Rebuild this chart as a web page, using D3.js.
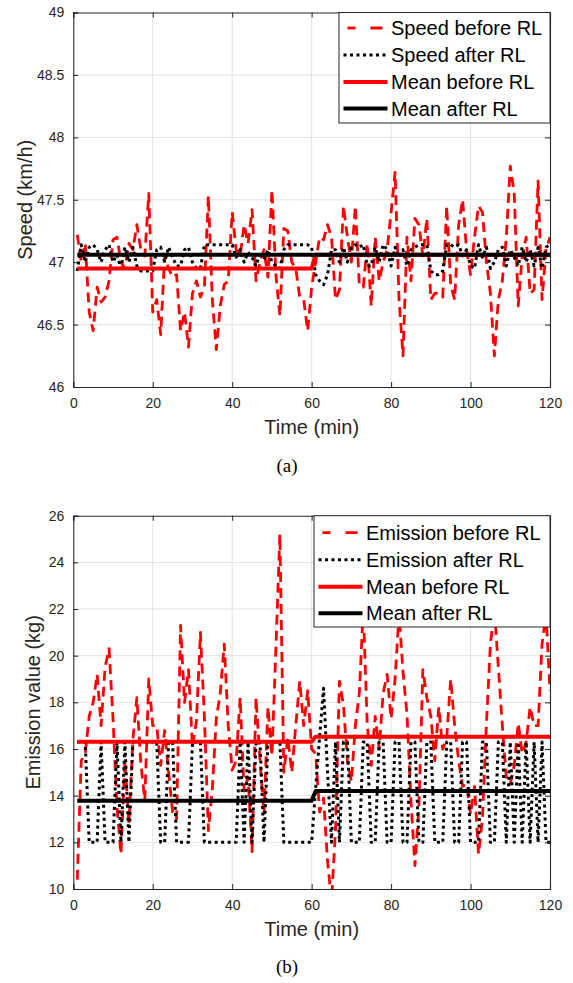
<!DOCTYPE html>
<html>
<head>
<meta charset="utf-8">
<script src="https://cdn.jsdelivr.net/npm/d3@7/dist/d3.min.js"></script>
<style>
  body { margin: 0; background: #fff; }
  svg text { font-family: "Liberation Sans", Arial, Helvetica, sans-serif; fill: #262626; }
</style>
</head>
<body>
<div id="chart"></div>
<script>
// minutes 1..120
var minutes = d3.range(1, 121);

var speedBefore = [
  47.22, 47.0, 47.15, 46.6, 46.45, 46.8, 46.68, 46.72, 46.85, 47.18,
  47.2, 47.0, 46.95, 47.15, 47.1, 47.3, 47.1, 47.05, 47.55, 46.6,
  46.7, 46.42, 47.05, 46.95, 46.88, 46.9, 46.45, 46.6, 46.32, 46.75,
  46.85, 46.72, 46.8, 47.53, 46.7, 46.3, 46.65, 46.82, 46.85, 47.4,
  47.1, 47.05, 47.3, 47.15, 47.42, 46.85, 47.0, 47.1, 46.88, 47.58,
  46.9, 46.57, 47.27, 47.25, 47.0, 46.95, 46.72, 46.7, 46.45, 46.8,
  47.0, 47.2, 47.18, 47.3, 47.2, 46.7, 46.78, 47.45, 47.2, 47.0,
  47.45, 46.82, 46.8, 47.15, 46.65, 47.2, 46.85, 47.0, 47.1, 47.4,
  47.72, 46.7, 46.25, 47.2, 46.85, 47.35, 47.3, 47.05, 47.35, 46.7,
  46.75, 46.75, 46.72, 47.45, 46.82, 46.7, 47.3, 47.5, 47.1, 46.9,
  47.2, 47.45, 47.4, 47.0, 46.75, 46.25, 46.7, 46.85, 47.2, 47.77,
  47.55, 46.65, 47.05, 47.2, 46.75, 46.78, 47.65, 46.7, 47.1, 47.2
];

var speedAfter = [
  46.93, 47.14, 47.0, 47.12, 47.14, 47.1, 47.0, 47.1, 47.14, 47.0,
  47.06, 46.95, 47.12, 47.0, 47.12, 46.97, 46.93, 46.93, 46.93, 46.93,
  47.1, 47.12, 47.0, 47.12, 47.04, 46.97, 46.97, 47.1, 47.12, 47.0,
  46.95, 46.95, 47.14, 47.14, 47.14, 47.14, 47.14, 47.14, 47.14, 47.14,
  47.04, 47.1, 47.0, 47.08, 47.04, 46.97, 47.08, 47.02, 47.1, 47.0,
  46.97, 46.95, 47.1, 47.14, 47.14, 47.14, 47.14, 47.14, 47.14, 47.12,
  46.9, 46.85, 46.82, 46.9, 47.1, 47.1, 47.0, 47.12, 47.0, 47.12,
  47.14, 47.12, 47.14, 46.97, 46.97, 47.12, 47.0, 47.14, 47.1, 46.97,
  47.12, 47.04, 47.1, 46.97, 47.1, 47.12, 47.14, 47.14, 47.14, 46.93,
  46.9, 46.9, 46.93, 47.14, 47.14, 47.12, 47.14, 47.05, 47.1, 46.97,
  46.95, 47.14, 47.04, 47.12, 46.95, 47.0, 47.1, 47.12, 46.97, 47.1,
  47.04, 46.97, 47.12, 47.0, 47.1, 46.97, 47.12, 46.95, 47.12, 47.14
];

// hourly means (hour 1 = min 1-60, hour 2 = min 61-120)
var speedMeanBefore = [46.95, 47.06];
var speedMeanAfter = [47.06, 47.06];

var emissionBefore = [
  10.4, 15.5, 15.8, 17.4, 18.0, 19.2, 17.0, 19.5, 20.3, 17.3,
  13.5, 11.5, 15.5, 12.8, 16.4, 18.2, 15.4, 13.8, 19.0, 17.0,
  17.0, 15.3, 16.8, 15.0, 13.3, 13.0, 21.3, 18.0, 19.4, 16.1,
  17.2, 21.0, 17.4, 12.5, 14.3, 17.3, 18.4, 20.5, 17.0, 15.1,
  15.5, 18.2, 14.2, 14.8, 11.6, 18.2, 15.5, 13.2, 17.8, 15.7,
  20.3, 25.2, 15.0, 16.5, 15.0, 17.0, 18.9, 17.0, 18.5, 16.0,
  15.8, 13.3, 13.9, 11.2, 9.5, 12.5, 18.9, 17.9, 15.5, 14.6,
  17.0, 18.4, 22.0, 17.0, 15.3, 17.4, 16.0, 18.4, 19.2, 17.3,
  19.0, 21.8, 19.3, 17.5, 13.8, 11.0, 13.5, 19.4, 18.2, 17.4,
  15.5, 17.8, 16.0, 16.5, 19.0, 17.0, 15.5, 14.4, 14.5, 13.2,
  14.4, 11.5, 13.0, 17.1, 20.5, 22.0, 19.5, 17.0, 14.8, 14.5,
  15.3, 17.1, 15.8, 16.3, 17.8, 17.0, 17.0, 20.5, 21.8, 18.5
];

var emissionAfter = [
  16.3, 16.3, 16.3, 12, 12, 12, 16.3, 12, 12, 12,
  16.3, 12, 16.3, 12, 16.3, 16.3, 16.3, 16.3, 16.3, 16.3,
  16.3, 12, 12, 16.3, 16.3, 12, 12, 12, 12, 16.3,
  16.3, 16.3, 12, 12, 12, 12, 12, 12, 12, 12,
  12, 16.3, 12, 16.3, 12, 16.3, 16.3, 12, 16.3, 16.3,
  16.3, 16.3, 12, 12, 12, 12, 12, 12, 12, 12,
  14.3, 16.5, 18.6, 15.0, 12, 16.3, 12, 16.3, 16.3, 12,
  12, 12, 16.3, 16.3, 12, 12, 16.3, 16.3, 12, 12,
  16.3, 16.3, 12, 12, 16.3, 16.3, 12, 12, 16.3, 16.3,
  12, 12, 12, 16.3, 16.3, 12, 12, 16.3, 16.3, 12,
  12, 12, 16.3, 16.3, 12, 12, 16.3, 16.3, 12, 16.3,
  12, 16.3, 12, 16.3, 12, 16.3, 12, 16.3, 12, 12
];

var emissionMeanBefore = [16.31, 16.53];
var emissionMeanAfter = [13.78, 14.2];

var xTicks = [0, 20, 40, 60, 80, 100, 120];
var speedTicks = [46, 46.5, 47, 47.5, 48, 48.5, 49];
var emissionTicks = [10, 12, 14, 16, 18, 20, 22, 24, 26];

var svg = d3.select('#chart')
    .append('svg')
        .attr('width', 573)
        .attr('height', 983);

function hourly(means) {
    return minutes.map(function(m) { return means[m <= 60 ? 0 : 1]; });
}

function drawPanel(p) {
    var x = d3.scaleLinear().domain([0, 120]).range([p.left, p.right]);
    var y = d3.scaleLinear().domain(p.yDomain).range([p.bottom, p.top]);
    var g = svg.append('g');
    var clipId = 'clip_' + p.id;

    g.append('clipPath').attr('id', clipId)
        .append('rect')
            .attr('x', p.left).attr('y', p.top)
            .attr('width', p.right - p.left).attr('height', p.bottom - p.top);

    // grid
    g.selectAll('.vgrid').data(xTicks.slice(1, -1)).enter()
        .append('line')
            .attr('x1', function(d) { return x(d); }).attr('x2', function(d) { return x(d); })
            .attr('y1', p.top).attr('y2', p.bottom)
            .attr('stroke', '#e3e3e3').attr('stroke-width', 1);
    g.selectAll('.hgrid').data(p.yTicks.slice(1, -1)).enter()
        .append('line')
            .attr('y1', function(d) { return y(d); }).attr('y2', function(d) { return y(d); })
            .attr('x1', p.left).attr('x2', p.right)
            .attr('stroke', '#e3e3e3').attr('stroke-width', 1);

    var line = d3.line()
        .x(function(d) { return x(d[0]); })
        .y(function(d) { return y(d[1]); });

    var plot = g.append('g').attr('clip-path', 'url(#' + clipId + ')');

    p.series.forEach(function(s) {
        plot.append('path')
            .datum(d3.zip(minutes, s.values))
            .attr('d', line)
            .attr('fill', 'none')
            .attr('stroke', s.color)
            .attr('stroke-width', s.width)
            .attr('stroke-dasharray', s.dash || null)
            .attr('stroke-linejoin', 'round');
    });

    // axes with inward ticks, MATLAB style box
    var ax = d3.axisBottom(x).tickValues(xTicks).tickSize(-5).tickPadding(11).tickFormat(d3.format('d'));
    var ay = d3.axisLeft(y).tickValues(p.yTicks).tickSize(-5).tickPadding(9).tickFormat(function(d) { return d; });
    var axT = d3.axisTop(x).tickValues(xTicks).tickSize(-5).tickFormat('');
    var ayR = d3.axisRight(y).tickValues(p.yTicks).tickSize(-5).tickFormat('');

    [
        [ax, 'translate(0,' + p.bottom + ')'],
        [ay, 'translate(' + p.left + ',0)'],
        [axT, 'translate(0,' + p.top + ')'],
        [ayR, 'translate(' + p.right + ',0)']
    ].forEach(function(a) {
        var sel = g.append('g').attr('transform', a[1]).call(a[0]);
        sel.select('.domain').attr('stroke', '#262626').attr('stroke-width', 1.1);
        sel.selectAll('.tick line').attr('stroke', '#262626');
        sel.selectAll('.tick text')
            .attr('fill', '#262626')
            .style('font-size', '14px')
            .style('font-family', '"Liberation Sans", Arial, sans-serif');
    });

    // axis titles
    g.append('text')
        .attr('x', (p.left + p.right) / 2)
        .attr('y', p.bottom + 47)
        .attr('text-anchor', 'middle')
        .style('font-size', '20px')
        .text('Time (min)');

    g.append('text')
        .attr('transform', 'translate(' + p.yTitleX + ',' + ((p.top + p.bottom) / 2) + ') rotate(-90)')
        .attr('text-anchor', 'middle')
        .style('font-size', '20px')
        .text(p.yTitle);

    // caption
    g.append('text')
        .attr('x', 287)
        .attr('y', p.captionY)
        .attr('text-anchor', 'middle')
        .style('font-family', '"Liberation Serif", "Times New Roman", serif')
        .style('font-size', '19px')
        .style('fill', '#000')
        .text(p.caption);

    // legend
    var lg = g.append('g').attr('transform', 'translate(' + p.legend.x + ',' + p.legend.y + ')');
    lg.append('rect')
        .attr('width', p.right - p.legend.x)
        .attr('height', p.legend.h)
        .attr('fill', '#fff')
        .attr('stroke', '#262626')
        .attr('stroke-width', 1);

    p.series.forEach(function(s, i) {
        var cy = p.legend.rowY[i];
        lg.append('line')
            .attr('x1', 4.5).attr('x2', 48.5)
            .attr('y1', cy).attr('y2', cy)
            .attr('stroke', s.color)
            .attr('stroke-width', s.width)
            .attr('stroke-dasharray', s.legendDash || s.dash || null);
        lg.append('text')
            .attr('x', 52)
            .attr('y', cy + 7)
            .style('font-size', '20px')
            .style('fill', '#000')
            .text(s.label);
    });
}

drawPanel({
    id: 'a',
    left: 73.3, right: 550, top: 12.5, bottom: 387,
    yDomain: [46, 49], yTicks: speedTicks,
    yTitle: 'Speed (km/h)', yTitleX: 32,
    caption: '(a)', captionY: 472,
    legend: { x: 339, y: 12.5, h: 110.5, rowY: [15.5, 42.5, 69.5, 96] },
    series: [
        { label: 'Speed before RL', values: speedBefore, color: '#ff0000', width: 2.8, dash: '10,6', legendDash: '0,4,8,15,8' },
        { label: 'Speed after RL', values: speedAfter, color: '#000', width: 3, dash: '3,3.5' },
        { label: 'Mean before RL', values: hourly(speedMeanBefore), color: '#ff0000', width: 4 },
        { label: 'Mean after RL', values: hourly(speedMeanAfter), color: '#000', width: 4 }
    ]
});

drawPanel({
    id: 'b',
    left: 73.3, right: 550, top: 515.7, bottom: 889,
    yDomain: [10, 26], yTicks: emissionTicks,
    yTitle: 'Emission value (kg)', yTitleX: 40,
    caption: '(b)', captionY: 973,
    legend: { x: 314, y: 515.7, h: 111.3, rowY: [17, 44, 71, 97.5] },
    series: [
        { label: 'Emission before RL', values: emissionBefore, color: '#ff0000', width: 2.8, dash: '10,6', legendDash: '0,4,8,15,8' },
        { label: 'Emission after RL', values: emissionAfter, color: '#000', width: 3, dash: '3,3.5' },
        { label: 'Mean before RL', values: hourly(emissionMeanBefore), color: '#ff0000', width: 4 },
        { label: 'Mean after RL', values: hourly(emissionMeanAfter), color: '#000', width: 4 }
    ]
});
</script>
</body>
</html>
